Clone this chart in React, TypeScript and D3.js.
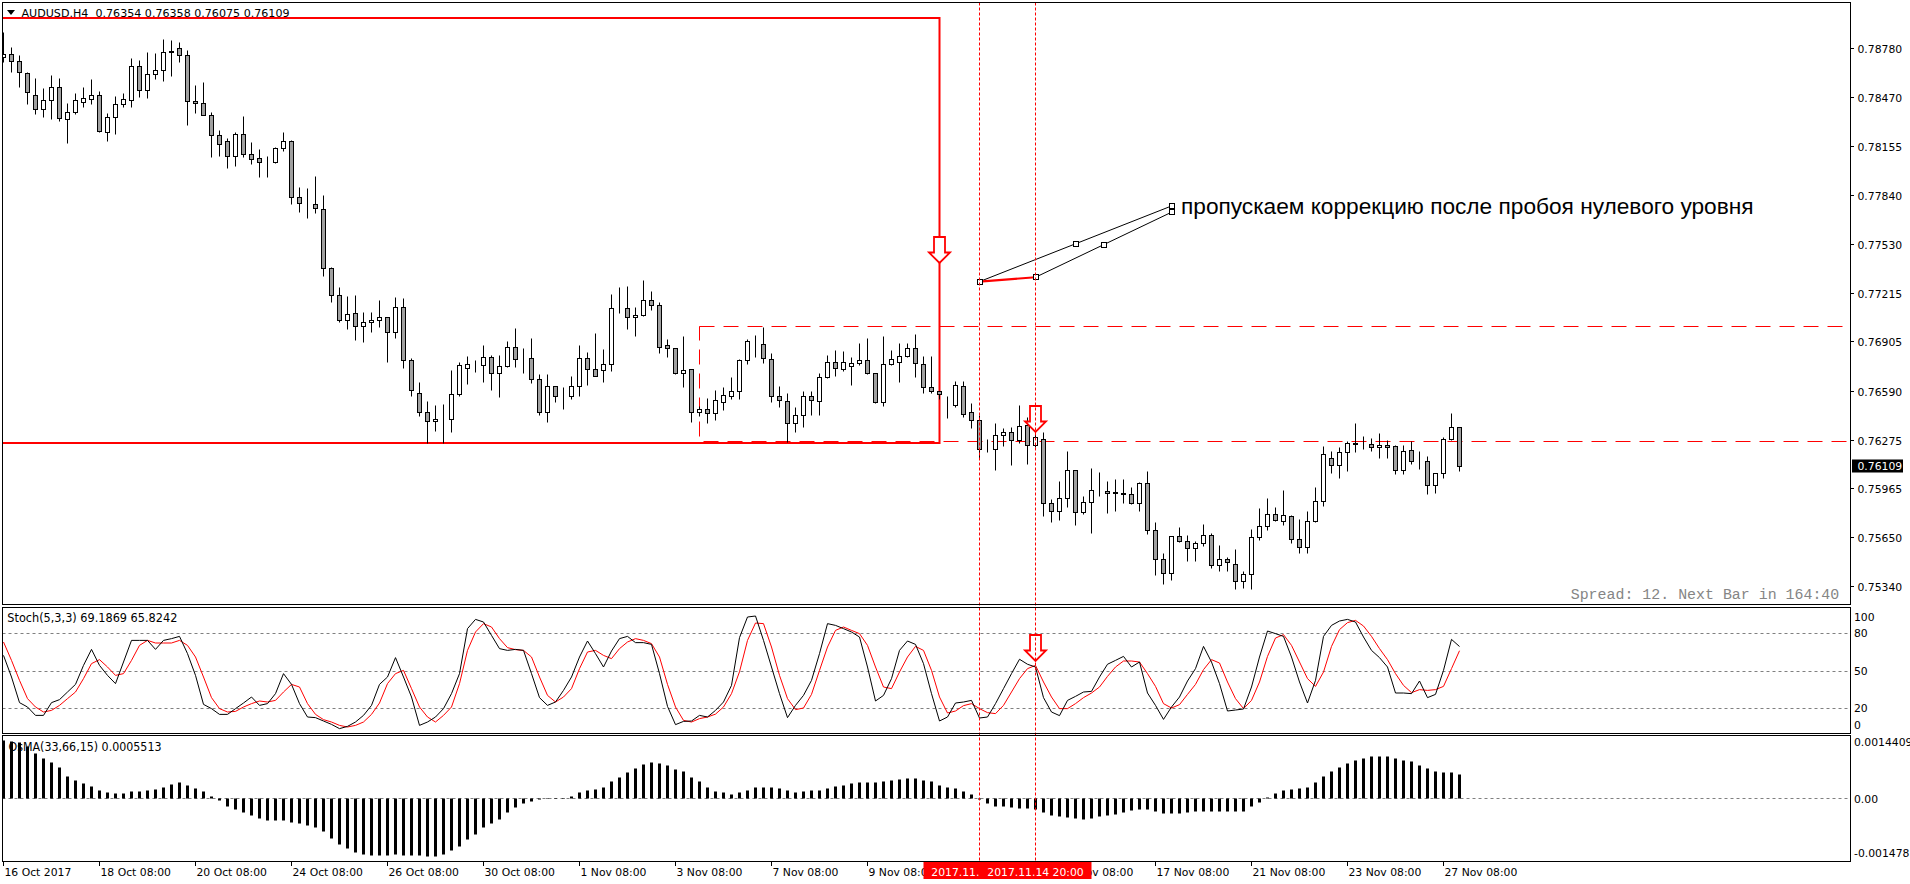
import React from "react";
import * as d3 from "d3";

// ---------- DATA (AUDUSD H4, bar 0 = 16 Oct 2017 08:00) ----------
const openP = [
0.78722,0.78741,0.78696,0.78620,0.78479,0.78389,0.78447,0.78532,0.78325,0.78370,
0.78434,0.78453,0.78479,0.78246,0.78338,0.78421,0.78447,0.78664,0.78511,0.78613,
0.78639,0.78756,0.78780,0.78735,0.78441,0.78428,0.78351,0.78223,0.78185,0.78089,
0.78229,0.78101,0.78076,0.78059,0.78050,0.78140,0.78185,0.77830,0.77786,0.77786,
0.77749,0.77372,0.77199,0.77039,0.77084,0.77001,0.77026,0.77039,0.77058,0.76965,
0.77122,0.76785,0.76572,0.76450,0.76393,0.76406,0.76406,0.76570,0.76732,0.76754,
0.76754,0.76803,0.76700,0.76745,0.76871,0.76794,0.76796,0.76662,0.76455,0.76617,
0.76557,0.76557,0.76617,0.76796,0.76726,0.76719,0.76758,0.77116,0.77116,0.77059,
0.77071,0.77167,0.77135,0.76879,0.76860,0.76700,0.76726,0.76455,0.76474,0.76449,
0.76519,0.76553,0.76585,0.76783,0.76888,0.76886,0.76790,0.76553,0.76521,0.76380,
0.76432,0.76553,0.76521,0.76675,0.76771,0.76726,0.76745,0.76764,0.76783,0.76700,
0.76519,0.76758,0.76771,0.76809,0.76860,0.76758,0.76611,0.76585,0.76500,0.76500,
0.76617,0.76451,0.76400,0.76214,0.76214,0.76304,0.76323,0.76272,0.76368,0.76240,
0.76278,0.75869,0.75818,0.75901,0.76080,0.75811,0.75875,0.75952,0.75945,0.75939,
0.75932,0.75926,0.75869,0.75996,0.75696,0.75510,0.75421,0.75658,0.75625,0.75581,
0.75613,0.75664,0.75472,0.75510,0.75479,0.75370,0.75414,0.75651,0.75721,0.75798,
0.75753,0.75785,0.75638,0.75587,0.75753,0.75881,0.76157,0.76112,0.76195,0.76253,
0.76246,0.76246,0.76227,0.76240,0.76233,0.76080,0.76208,0.76142,0.76142,0.75984,
0.76060,0.76278,0.76354];
const highP = [
0.78886,0.78786,0.78737,0.78626,0.78590,0.78526,0.78609,0.78590,0.78428,0.78492,
0.78532,0.78583,0.78507,0.78364,0.78475,0.78492,0.78718,0.78705,0.78756,0.78750,
0.78837,0.78833,0.78820,0.78769,0.78545,0.78562,0.78370,0.78257,0.78206,0.78246,
0.78347,0.78178,0.78133,0.78093,0.78150,0.78244,0.78190,0.77890,0.77884,0.77963,
0.77839,0.77380,0.77252,0.77197,0.77201,0.77093,0.77093,0.77167,0.77060,0.77188,
0.77180,0.76800,0.76645,0.76523,0.76497,0.76504,0.76721,0.76775,0.76809,0.76785,
0.76881,0.76817,0.76817,0.76909,0.76990,0.76860,0.76924,0.76694,0.76696,0.76620,
0.76611,0.76683,0.76882,0.76837,0.76958,0.76856,0.77208,0.77253,0.77259,0.77123,
0.77298,0.77227,0.77155,0.76920,0.76862,0.76939,0.76728,0.76493,0.76540,0.76592,
0.76611,0.76675,0.76794,0.76920,0.76946,0.76999,0.76828,0.76617,0.76572,0.76487,
0.76585,0.76585,0.76700,0.76815,0.76850,0.76843,0.76803,0.76892,0.76924,0.76702,
0.76939,0.76850,0.76892,0.76892,0.76952,0.76811,0.76811,0.76587,0.76557,0.76653,
0.76653,0.76511,0.76434,0.76278,0.76380,0.76351,0.76355,0.76498,0.76423,0.76483,
0.76323,0.75894,0.76009,0.76201,0.76082,0.75918,0.76093,0.76067,0.76009,0.76022,
0.76022,0.75971,0.76007,0.76073,0.75747,0.75549,0.75658,0.75715,0.75664,0.75630,
0.75734,0.75677,0.75600,0.75523,0.75574,0.75434,0.75702,0.75837,0.75901,0.75843,
0.75952,0.75792,0.75766,0.75818,0.75971,0.76233,0.76201,0.76227,0.76265,0.76380,
0.76297,0.76284,0.76317,0.76272,0.76240,0.76240,0.76265,0.76201,0.76169,0.76060,
0.76291,0.76444,0.76358];
const lowP = [
0.78694,0.78630,0.78534,0.78426,0.78357,0.78342,0.78330,0.78317,0.78176,0.78362,
0.78406,0.78421,0.78246,0.78189,0.78234,0.78404,0.78406,0.78466,0.78464,0.78581,
0.78573,0.78605,0.78694,0.78287,0.78368,0.78351,0.78082,0.78093,0.78016,0.78029,
0.78082,0.78037,0.77958,0.77958,0.78044,0.78125,0.77781,0.77734,0.77696,0.77728,
0.77325,0.77159,0.77031,0.76986,0.76911,0.76898,0.76965,0.76999,0.76775,0.76928,
0.76732,0.76555,0.76427,0.76252,0.76333,0.76252,0.76323,0.76557,0.76634,0.76711,
0.76647,0.76594,0.76551,0.76739,0.76743,0.76705,0.76636,0.76432,0.76391,0.76519,
0.76474,0.76534,0.76557,0.76626,0.76683,0.76647,0.76718,0.77084,0.76986,0.76941,
0.77067,0.77106,0.76832,0.76807,0.76698,0.76615,0.76387,0.76429,0.76380,0.76404,
0.76468,0.76538,0.76538,0.76762,0.76807,0.76764,0.76519,0.76487,0.76263,0.76327,
0.76359,0.76436,0.76436,0.76668,0.76685,0.76718,0.76624,0.76752,0.76698,0.76513,
0.76493,0.76752,0.76643,0.76803,0.76679,0.76577,0.76572,0.76534,0.76412,0.76487,
0.76423,0.76349,0.76157,0.76199,0.76084,0.76238,0.76116,0.76253,0.76122,0.76231,
0.75790,0.75751,0.75760,0.75847,0.75728,0.75798,0.75677,0.75913,0.75805,0.75822,
0.75873,0.75862,0.75822,0.75670,0.75412,0.75350,0.75376,0.75619,0.75498,0.75498,
0.75594,0.75453,0.75434,0.75434,0.75318,0.75325,0.75318,0.75632,0.75696,0.75753,
0.75728,0.75613,0.75549,0.75549,0.75747,0.75854,0.76065,0.76033,0.76078,0.76199,
0.76214,0.76201,0.76157,0.76157,0.76058,0.76058,0.76118,0.76090,0.75926,0.75932,
0.76033,0.76276,0.76075];
const closeP = [
0.78741,0.78696,0.78626,0.78498,0.78389,0.78447,0.78532,0.78332,0.78370,0.78447,
0.78462,0.78479,0.78251,0.78338,0.78421,0.78453,0.78664,0.78511,0.78613,0.78639,
0.78754,0.78760,0.78737,0.78441,0.78428,0.78353,0.78223,0.78165,0.78089,0.78229,
0.78101,0.78069,0.78050,0.78059,0.78140,0.78185,0.77826,0.77788,0.77786,0.77756,
0.77372,0.77201,0.77039,0.77078,0.77001,0.77026,0.77039,0.77058,0.76965,0.77122,
0.76785,0.76591,0.76450,0.76393,0.76406,0.76406,0.76566,0.76751,0.76758,0.76754,
0.76802,0.76700,0.76745,0.76871,0.76790,0.76794,0.76662,0.76455,0.76617,0.76553,
0.76557,0.76617,0.76796,0.76726,0.76685,0.76758,0.77116,0.77116,0.77059,0.77071,
0.77167,0.77135,0.76871,0.76860,0.76700,0.76719,0.76455,0.76474,0.76449,0.76527,
0.76560,0.76585,0.76783,0.76907,0.76888,0.76796,0.76553,0.76527,0.76380,0.76432,
0.76553,0.76527,0.76675,0.76771,0.76732,0.76771,0.76764,0.76783,0.76700,0.76519,
0.76758,0.76790,0.76809,0.76860,0.76764,0.76611,0.76585,0.76568,0.76500,0.76624,
0.76442,0.76402,0.76214,0.76214,0.76304,0.76323,0.76272,0.76361,0.76240,0.76291,
0.75869,0.75818,0.75901,0.76080,0.75811,0.75875,0.75952,0.75952,0.75937,0.75932,
0.75926,0.75869,0.75996,0.75696,0.75510,0.75421,0.75658,0.75625,0.75581,0.75613,
0.75664,0.75472,0.75510,0.75491,0.75370,0.75414,0.75651,0.75721,0.75798,0.75760,
0.75792,0.75638,0.75587,0.75753,0.75881,0.76182,0.76112,0.76195,0.76253,0.76246,
0.76246,0.76227,0.76240,0.76227,0.76080,0.76201,0.76137,0.76142,0.75984,0.76060,
0.76278,0.76355,0.76109];

const stochMain = [
62.1,44.8,24.3,20.8,14.1,14.1,24.3,26.7,32.8,38.9,
54.1,66.9,54.1,46.1,39.5,56.8,74.1,74.1,74.1,66.9,
74.1,75.5,77.3,63.5,46.1,22.9,19.5,14.9,14.9,19.5,
24.0,28.8,22.1,23.5,31.5,47.5,38.9,23.5,12.8,12.3,
9.6,6.9,3.5,5.3,8.8,14.1,22.1,38.9,44.8,60.3,
44.8,28.8,6.1,8.8,12.8,19.5,31.5,47.5,83.5,90.9,
88.8,78.1,67.5,66.1,66.9,66.1,47.5,28.3,22.1,24.8,
34.1,44.8,60.8,73.6,63.5,52.8,65.6,75.5,77.3,72.3,
72.3,70.9,47.5,21.3,6.7,9.3,9.6,14.1,12.8,18.1,
24.8,38.1,
76.3,92.8,93.6,74.1,52.8,31.5,12.3,22.1,30.1,42.1,
63.5,87.5,86.1,83.5,80.8,76.8,52.8,25.6,30.1,43.5,
66.1,73.6,70.9,55.5,31.5,9.6,12.8,24.0,24.8,26.1,
12.0,12.8,23.5,35.5,47.5,59.0,55.0,52.8,28.3,16.8,
13.9,26.1,29.3,32.8,33.3,44.8,55.0,58.1,61.3,52.8,
56.8,32.0,22.1,10.9,20.8,28.8,41.6,51.5,69.3,56.8,
39.5,17.6,18.4,19.2,36.8,60.8,81.6,79.5,77.3,60.8,
40.8,24.0,42.1,77.3,86.1,89.6,90.9,88.8,76.8,66.1,
60.3,52.8,32.0,32.0,31.5,41.6,28.3,30.9,50.1,74.9,
69.19];
const stochSignal = [
72.8,58.1,42.1,27.5,20.8,16.8,18.1,22.1,27.5,32.8,
43.5,55.5,58.7,52.8,46.1,47.5,58.1,70.1,74.1,72.0,
72.0,72.0,74.1,70.1,60.8,44.8,28.3,19.5,16.8,17.3,
20.8,23.5,25.6,24.8,26.1,32.8,38.9,36.8,23.5,14.9,
10.7,8.8,6.1,4.8,6.1,8.8,14.9,24.0,39.5,47.5,
50.1,35.5,20.8,12.8,8.8,14.1,20.8,39.5,66.1,80.8,
87.5,84.8,75.5,68.3,66.7,66.1,60.8,44.8,30.1,24.8,
28.8,35.5,51.5,64.8,66.1,62.1,59.5,67.5,72.8,75.5,
74.1,71.5,60.8,38.9,20.8,10.1,8.8,11.5,12.8,15.1,
20.8,31.5,
49.0,74.1,88.0,87.5,68.8,46.1,27.5,18.7,20.0,30.9,
50.1,68.8,82.1,84.8,82.1,79.5,70.1,52.8,36.8,35.5,
48.8,60.8,69.3,66.1,50.1,28.8,16.0,17.6,21.9,23.5,
19.5,16.3,15.5,22.1,32.8,43.5,51.5,54.1,40.8,28.8,
19.5,19.5,23.5,28.3,32.0,36.8,45.3,52.8,57.6,57.6,
56.8,47.5,37.3,23.5,20.0,22.7,30.9,38.9,50.7,58.7,
56.0,40.8,27.5,19.5,26.1,40.8,61.3,76.0,78.7,70.1,
56.8,43.5,37.3,48.8,69.3,82.7,88.3,90.1,85.6,77.3,
67.5,58.7,47.5,38.1,32.3,34.7,34.1,34.7,37.3,51.5,
65.82];

// OsMA(33,66,15) histogram, in units of 1e-4
const osmaE4 = [
13.4,13.2,13.0,12.0,10.5,9.3,8.3,7.3,5.2,4.2,
3.5,2.9,1.9,1.4,1.2,1.2,1.6,1.6,1.9,2.1,
2.7,3.3,3.7,3.1,2.4,1.6,0.6,-0.4,-1.7,-2.5,
-3.3,-4.0,-4.6,-5.0,-5.0,-5.0,-5.6,-5.8,-6.3,-6.6,
-7.5,-9.3,-10.6,-11.5,-12.4,-12.9,-13.1,-13.1,-13.1,-12.9,
-13.1,-13.1,-13.1,-13.4,-13.3,-12.9,-12.1,-11.1,-9.4,-8.3,
-6.7,-5.8,-4.8,-3.3,-2.1,-1.0,-0.6,-0.3,0.1,0.1,
0.1,0.6,1.4,1.9,2.1,2.5,3.9,5.0,6.0,7.0,
7.9,8.3,8.1,7.8,6.8,6.2,4.8,3.9,2.5,1.7,
1.5,1.0,
1.5,1.9,2.5,2.7,2.5,2.3,1.9,1.5,1.6,1.8,
1.9,2.4,2.8,3.1,3.6,3.7,3.7,3.7,3.9,4.2,
4.5,4.6,4.6,4.2,3.9,3.1,2.5,2.3,1.6,1.0,
-0.1,-1.2,-1.7,-1.9,-2.1,-2.2,-2.3,-2.5,-3.2,-4.0,
-4.2,-4.4,-4.6,-4.8,-4.6,-4.2,-4.0,-3.6,-3.1,-2.7,
-2.5,-2.5,-3.0,-3.5,-3.5,-3.4,-3.2,-3.0,-3.0,-3.0,
-3.0,-3.0,-2.9,-2.9,-1.9,-0.9,0.2,1.2,1.9,2.2,
2.4,2.7,3.7,5.1,6.3,7.2,8.2,8.9,9.3,9.7,
9.7,9.7,9.3,8.9,8.6,7.8,7.0,6.4,6.0,6.0,
5.51];

const timeLabelBars = [0,12,24,36,48,60,72,84,96,108,120,132,144,156,168,180];
const timeLabels = ["16 Oct 2017","18 Oct 08:00","20 Oct 08:00","24 Oct 08:00","26 Oct 08:00",
  "30 Oct 08:00","1 Nov 08:00","3 Nov 08:00","7 Nov 08:00","9 Nov 08:00","13 Nov 08:00",
  "15 Nov 08:00","17 Nov 08:00","21 Nov 08:00","23 Nov 08:00","27 Nov 08:00"];
const priceTicks = [0.78780,0.78470,0.78155,0.77840,0.77530,0.77215,0.76905,0.76590,0.76275,0.75965,0.75650,0.75340];
const stochLevels = [80,50,20];
const stochAxisLabels = [100,80,50,20,0];
const markBars = [122,129];
const markLabels = ["2017.11.13 16:00","2017.11.14 20:00"];
const lastPrice = 0.76109;
const headerText = "AUDUSD.H4\u00a0\u00a00.76354 0.76358 0.76075 0.76109";
const stochTitle = "Stoch(5,3,3) 69.1869 65.8242";
const osmaTitle = "OsMA(33,66,15) 0.0005513";
const spreadText = "Spread: 12. Next Bar in 164:40";

// drawn objects (bar index, price)
const solidRect = { b0: -2, b1: 117, pTop: 0.78977, pBot: 0.76253 };
const dashRect = { b0: 87, b1: 240, pTop: 0.77001, pBot: 0.76264 };
const trendA = { b: 122, p: 0.77287 };
const trendB = { b: 129, p: 0.77315 };
const trendE = { b: 146, p: 0.77771 };
const trendF = { b: 146, p: 0.77731 };
const note = "пропускаем коррекцию после пробоя нулевого уровня";

// text stretched horizontally to a measured target width
function FitText(props: any) {
  const { x, y, width, children, ...rest } = props;
  const ref = React.useRef<SVGTextElement>(null);
  const [s, setS] = React.useState(1);
  React.useLayoutEffect(() => {
    if (ref.current) {
      const w = ref.current.getComputedTextLength();
      if (w > 0) setS(width / w);
    }
  }, [width, children]);
  return (
    <text ref={ref} transform={`translate(${x},${y}) scale(${s},1)`} x={0} y={0} {...rest}>{children}</text>
  );
}

export default function App() {
  const W = 1910, H = 884;
  const L = 2.5, R = 1850.5;
  const mainTop = 2.5, mainBot = 604.5;
  const stTop = 607.5, stBot = 733.5;
  const osTop = 735.5, osBot = 861.5;

  const x = d3.scaleLinear().domain([0, 182]).range([3.5, 3.5 + 8 * 182]);
  const yP = d3.scaleLinear().domain([0.75221, 0.79073]).range([604.5, 2.5]);
  const yS = d3.scaleLinear().domain([0, 100]).range([733, 608]);
  const yO = d3.scaleLinear().domain([-14.78, 14.409]).range([862, 736]);

  const font = "'DejaVu Sans', Tahoma, sans-serif";
  const fs = 10.8;

  const stLine = d3.line<number>().x((_, i) => x(i)).y((v) => yS(v));

  const arrow = (cx: number, tipY: number, key: string) => {
    const pts = [
      [cx - 5.5, tipY - 26], [cx + 5.5, tipY - 26], [cx + 5.5, tipY - 10.5],
      [cx + 10.5, tipY - 10.5], [cx, tipY], [cx - 10.5, tipY - 10.5], [cx - 5.5, tipY - 10.5],
    ].map((p) => p.join(",")).join(" ");
    return (
      <g key={key}>
        <polygon points={pts} fill="#fff" stroke="#ff0000" strokeWidth={1.8} strokeLinejoin="miter" />
      </g>
    );
  };

  const sq = (px: number, py: number, key: string) => (
    <rect key={key} x={Math.round(px) - 2.5} y={Math.round(py) - 2.5} width={5} height={5} fill="#fff" stroke="#000" strokeWidth={1} />
  );

  const A = [x(trendA.b), yP(trendA.p)], B = [x(trendB.b), yP(trendB.p)];
  const E = [x(trendE.b), yP(trendE.p)], F = [x(trendF.b), yP(trendF.p)];

  return (
    <svg width={W} height={H} style={{ position: "absolute", left: 0, top: 0, display: "block", background: "#fff" }}
      fontFamily={font}>
      <defs>
        <clipPath id="mainClip"><rect x={L} y={mainTop} width={R - L} height={mainBot - mainTop} /></clipPath>
        <clipPath id="stClip"><rect x={L} y={stTop} width={R - L} height={stBot - stTop} /></clipPath>
        <clipPath id="osClip"><rect x={L} y={osTop} width={R - L} height={osBot - osTop} /></clipPath>
      </defs>
      <rect x={0} y={0} width={W} height={H} fill="#fff" />

      {/* ---------- main panel ---------- */}
      <g clipPath="url(#mainClip)">
        <rect x={x(solidRect.b0)} y={Math.round(yP(solidRect.pTop))} width={x(solidRect.b1) - x(solidRect.b0)}
          height={Math.round(yP(solidRect.pBot)) - Math.round(yP(solidRect.pTop))} fill="none" stroke="#ff0000" strokeWidth={2} />
        <rect x={x(dashRect.b0)} y={Math.round(yP(dashRect.pTop)) + 0.5} width={x(dashRect.b1) - x(dashRect.b0)}
          height={Math.round(yP(dashRect.pBot)) - Math.round(yP(dashRect.pTop))} fill="none" stroke="#ff0000" strokeWidth={1} strokeDasharray="15 9" />

        {closeP.map((c, i) => {
          const o = openP[i], h = highP[i], l = lowP[i];
          const cx = x(i);
          const yT = Math.round(yP(Math.max(o, c))) + 0.5;
          const yB = Math.round(yP(Math.min(o, c))) + 0.5;
          const fill = c > o ? "#ffffff" : c < o ? "#a0a0a0" : "none";
          return (
            <g key={i}>
              <line x1={cx} x2={cx} y1={Math.round(yP(h)) + 0.5} y2={Math.round(yP(l)) + 0.5} stroke="#000" strokeWidth={1} />
              <rect x={cx - 2} y={yT} width={4} height={Math.max(0, yB - yT)} fill={fill} stroke="#000" strokeWidth={1} />
            </g>
          );
        })}

        <line x1={A[0]} y1={A[1]} x2={E[0]} y2={E[1]} stroke="#000" strokeWidth={1} />
        <line x1={B[0]} y1={B[1]} x2={F[0]} y2={F[1]} stroke="#000" strokeWidth={1} />
        <line x1={A[0]} y1={A[1]} x2={B[0]} y2={B[1]} stroke="#ff0000" strokeWidth={2.2} />
        {sq(A[0], A[1], "sa")}
        {sq(B[0], B[1], "sb")}
        {sq((A[0] + E[0]) / 2, (A[1] + E[1]) / 2, "sc")}
        {sq((B[0] + F[0]) / 2, (B[1] + F[1]) / 2, "sd")}
        {sq(E[0], E[1], "se")}
        {sq(F[0], F[1], "sf")}
        <FitText x={1181} y={214} width={573} fontFamily="'Liberation Sans', Arial, sans-serif" fontSize={22} fill="#000">{note}</FitText>

        {arrow(x(117), 263, "a1")}
        {arrow(x(129), 432, "a2")}

        <polygon points="7,10 15,10 11,15" fill="#000" />
        <FitText x={21.5} y={16.5} width={268} fontSize={11.2} fill="#000">{headerText}</FitText>

        <FitText x={1570.7} y={599} width={268.6} fontFamily="'Liberation Mono', 'Courier New', monospace" fontSize={14.4} fill="#858585">{spreadText}</FitText>
      </g>

      {/* ---------- stochastic panel ---------- */}
      <g clipPath="url(#stClip)">
        {stochLevels.map((v) => (
          <line key={v} x1={L} x2={R} y1={Math.round(yS(v)) + 0.5} y2={Math.round(yS(v)) + 0.5} stroke="#808080" strokeWidth={1} strokeDasharray="3 3" />
        ))}
        <FitText x={7.3} y={622} width={170} fontSize={11.4} fill="#000">{stochTitle}</FitText>
        <path d={stLine(stochSignal) || ""} fill="none" stroke="#ff0000" strokeWidth={1} />
        <path d={stLine(stochMain) || ""} fill="none" stroke="#000" strokeWidth={1} />
        {arrow(x(129), 661, "a3")}
      </g>

      {/* ---------- OsMA panel ---------- */}
      <g clipPath="url(#osClip)">
        <line x1={L} x2={R} y1={Math.round(yO(0)) + 0.5} y2={Math.round(yO(0)) + 0.5} stroke="#808080" strokeWidth={1} strokeDasharray="3 3" />
        <FitText x={8.5} y={750.5} width={153} fontSize={11.4} fill="#000">{osmaTitle}</FitText>
        {osmaE4.map((v, i) => {
          const y0 = Math.round(yO(0)) + 0.5;
          const y1 = Math.round(yO(v)) + 0.5;
          return <rect key={i} x={x(i) - 1.5} y={Math.min(y0, y1)} width={3} height={Math.max(0.5, Math.abs(y1 - y0))} fill="#000" />;
        })}
      </g>

      {markBars.map((b) => (
        <line key={b} x1={x(b)} x2={x(b)} y1={mainTop} y2={osBot} stroke="#ff0000" strokeWidth={1} strokeDasharray="3 2" />
      ))}

      <rect x={L} y={mainTop} width={R - L} height={mainBot - mainTop} fill="none" stroke="#000" />
      <rect x={L} y={stTop} width={R - L} height={stBot - stTop} fill="none" stroke="#000" />
      <rect x={L} y={osTop} width={R - L} height={osBot - osTop} fill="none" stroke="#000" />

      {priceTicks.map((p) => {
        const yy = Math.round(yP(p)) + 0.5;
        return (
          <g key={p}>
            <line x1={R} x2={R + 3.5} y1={yy} y2={yy} stroke="#000" />
            <text x={1857.5} y={yy + 4} fontSize={fs} fill="#000">{p.toFixed(5)}</text>
          </g>
        );
      })}
      <rect x={1852} y={Math.round(yP(lastPrice)) - 6.5} width={51} height={13} fill="#000" />
      <text x={1857.5} y={Math.round(yP(lastPrice)) + 4} fontSize={fs} fill="#fff">{lastPrice.toFixed(5)}</text>

      {stochAxisLabels.map((v) => (
        <text key={v} x={1854} y={Math.min(Math.max(yS(v), 616.7), 725) + 4} fontSize={fs} fill="#000">{v}</text>
      ))}
      <text x={1854} y={745.5} fontSize={fs} fill="#000">0.0014409</text>
      <text x={1854} y={Math.round(yO(0)) + 4.5} fontSize={fs} fill="#000">0.00</text>
      <text x={1854} y={857} fontSize={fs} fill="#000">-0.001478</text>

      {timeLabelBars.map((b, k) => (
        <g key={b}>
          <line x1={x(b)} x2={x(b)} y1={osBot} y2={osBot + 4.5} stroke="#000" />
          <text x={x(b) + 1} y={876} fontSize={fs} fill="#000">{timeLabels[k]}</text>
        </g>
      ))}
      {markBars.map((b, k) => (
        <g key={"m" + b}>
          <rect x={x(b) - 56} y={862} width={112} height={17} fill="#ff0000" />
          <text x={x(b)} y={876} textAnchor="middle" fontSize={fs} fill="#fff">{markLabels[k]}</text>
        </g>
      ))}
    </svg>
  );
}
